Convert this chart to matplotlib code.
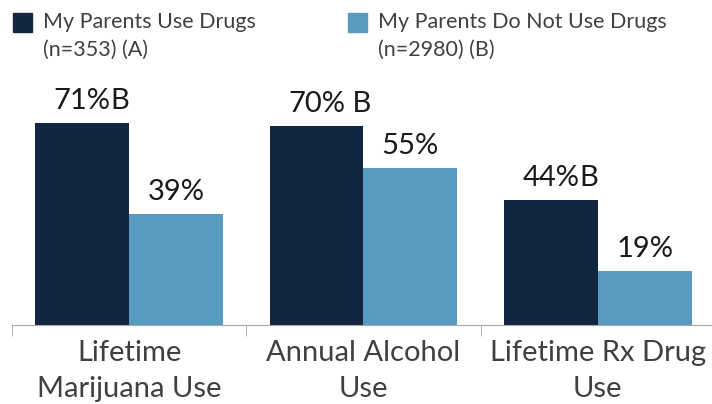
import matplotlib.pyplot as plt
import numpy as np

categories = ["Lifetime\nMarijuana Use", "Annual Alcohol\nUse", "Lifetime Rx Drug\nUse"]
parents_use = [71, 70, 44]
parents_no_use = [39, 55, 19]
sig_marks = ["B", " B", "B"]
series_names = ["My Parents Use Drugs\n(n=353) (A)", "My Parents Do Not Use Drugs\n(n=2980) (B)"]

DARK = "#12263f"
LIGHT = "#579cc0"
TEXT = "#404040"
LABEL = "#1a1a1a"

plt.rcParams["font.family"] = ["Lato", "DejaVu Sans"]

fig = plt.figure(figsize=(7.12, 4.04), dpi=100)
ax = fig.add_axes([12 / 712, 79 / 404, 703 / 712, 228 / 404])

x = np.arange(len(categories))
w = 0.4
bars_a = ax.bar(x - w / 2, parents_use, w, color=DARK)
bars_b = ax.bar(x + w / 2, parents_no_use, w, color=LIGHT)

# percent labels centred on the bars; significance letter tacked on after
pct_texts = []
for rect, v in zip(bars_a, parents_use):
    t = ax.annotate(f"{v}%", (rect.get_x() + rect.get_width() / 2, v),
                    xytext=(0, 10), textcoords="offset points",
                    ha="center", va="baseline", fontsize=21, color=LABEL)
    pct_texts.append(t)
for rect, v in zip(bars_b, parents_no_use):
    ax.annotate(f"{v}%", (rect.get_x() + rect.get_width() / 2, v),
                xytext=(0, 10), textcoords="offset points",
                ha="center", va="baseline", fontsize=21, color=LABEL)

ax.set_xlim(-0.5, 2.5)
ax.set_ylim(0, 80)
ax.set_yticks([])
for s in ["left", "right", "top"]:
    ax.spines[s].set_visible(False)
ax.spines["bottom"].set_color("#a6a6a6")

ax.set_xticks(x)
ax.set_xticklabels(categories, fontsize=21, color=TEXT, linespacing=1.45)
ax.tick_params(axis="x", which="major", length=0, pad=11)
ax.set_xticks([-0.5, 0.5, 1.5, 2.5], minor=True)
ax.tick_params(axis="x", which="minor", length=8, color="#a6a6a6")

fig.canvas.draw()
renderer = fig.canvas.get_renderer()
for t, mark in zip(pct_texts, sig_marks):
    bb = t.get_window_extent(renderer)
    xr, _ = ax.transData.inverted().transform((bb.x1, bb.y0))
    ax.annotate(mark, (xr, t.xy[1]), xytext=(0, 10), textcoords="offset points",
                ha="left", va="baseline", fontsize=21, color=LABEL)

# legend drawn by hand: square swatch plus two-line text
for xs, color, name in [(13, DARK, series_names[0]), (348, LIGHT, series_names[1])]:
    fig.patches.append(plt.Rectangle((xs / 712, 1 - 32 / 404), 19 / 712, 19 / 404,
                                     transform=fig.transFigure, color=color))
    fig.text((xs + 30) / 712, 1 - 12 / 404, name, ha="left", va="top",
             fontsize=15.5, color=TEXT, linespacing=1.5)

fig.savefig("out.png", dpi=100)
